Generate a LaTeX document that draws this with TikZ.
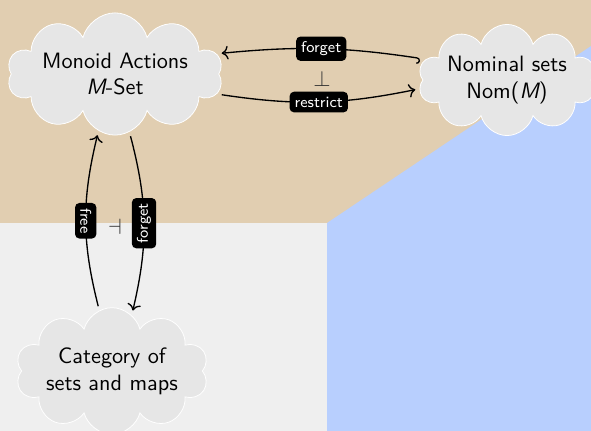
\documentclass[tikz,border=0pt]{standalone}
\usetikzlibrary{shapes.symbols,arrows.meta}
\definecolor{tanbg}{HTML}{E1CEB1}
\definecolor{bluebg}{HTML}{B8CFFE}
\definecolor{greybg}{HTML}{EFEFEF}
\definecolor{cloudfill}{HTML}{E6E6E6}
\tikzset{
  cloudnode/.style={cloud, cloud puffs=10, cloud ignores aspect, fill=cloudfill, draw=white,
    line width=0.35pt, align=center, font=\sffamily, inner sep=0pt, outer sep=2pt},
  lbl/.style={fill=black, text=white, rounded corners=2pt, font=\sffamily\scriptsize,
    inner sep=2.3pt},
  arr/.style={line width=0.6pt, ->},
  adj/.style={inner sep=0pt, text=black!80},
}
\begin{document}
\begin{tikzpicture}[x=0.45pt, y=-0.45pt]
  % background regions
  \useasboundingbox (0,0) rectangle (591,431);
  \fill[tanbg] (0,0) rectangle (591,431);
  \fill[greybg] (0,223) rectangle (327,431);
  \fill[bluebg] (327,431) -- (327,223) -- (591,46) -- (591,431) -- cycle;

  % categories
  \node[cloudnode, minimum width=97pt, minimum height=55pt] (mset) at (115,74)
    {Monoid Actions\\{\itshape M}-Set};
  \node[cloudnode, minimum width=80pt, minimum height=50pt] (nom) at (507,80)
    {Nominal sets\\Nom({\itshape M})};
  \node[cloudnode, minimum width=85pt, minimum height=57pt] (set) at (112,371)
    {Category of\\sets and maps};

  % adjunction between M-Set and Nom(M)
  \draw[line width=0.6pt, {Hooks[right]}->] (nom.166) to[bend right=7]
    node[lbl] (fg1) {forget} (mset.11);
  \draw[arr] (mset.-11) to[bend right=10]
    node[lbl] (rs) {restrict} (nom.186);
  \node[adj] (perp1) at (322,79) {$\perp$};

  % adjunction between Set and M-Set
  \draw[arr] (set.102) to[bend left=14]
    node[lbl, rotate=-90] (fr) {free} (mset.254);
  \draw[arr] (mset.284) to[bend left=14]
    node[lbl, rotate=90] (fg2) {forget} (set.71);
  \node[adj] (perp2) at (115,227) {$\dashv$};
\end{tikzpicture}
\end{document}
